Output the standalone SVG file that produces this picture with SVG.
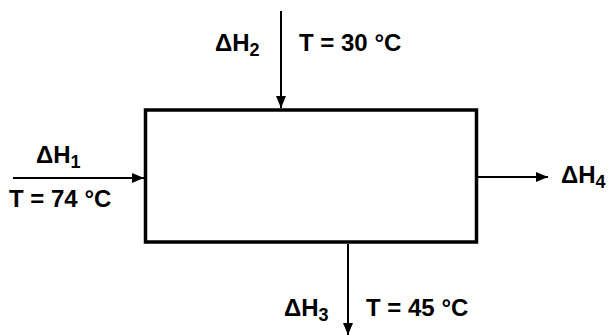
<svg xmlns="http://www.w3.org/2000/svg" width="612" height="335" viewBox="0 0 612 335">
<style>
.t{font-family:"Liberation Sans",Arial,sans-serif;font-size:24px;font-weight:bold;fill:#000}
.s{font-size:18px}
.ln{stroke:#000;stroke-width:2;fill:none}
</style>
<defs>
<marker id="ah" viewBox="0 0 12 10" refX="12" refY="5" markerWidth="12" markerHeight="10" markerUnits="userSpaceOnUse" orient="auto">
<path d="M0,0 L12,5 L0,10 z" fill="#000"/>
</marker>
</defs>
<rect width="612" height="335" fill="#fff"/>
<g id="box"><rect x="145.5" y="110" width="331" height="132" fill="none" stroke="#000" stroke-width="3.5"/></g>
<g id="connectors">
<line class="ln" x1="281" y1="11" x2="281" y2="108" marker-end="url(#ah)"/>
<line class="ln" x1="13" y1="178" x2="144" y2="178" marker-end="url(#ah)"/>
<line class="ln" x1="478" y1="177" x2="548" y2="177" marker-end="url(#ah)"/>
<line class="ln" x1="348" y1="244" x2="348" y2="335" marker-end="url(#ah)"/>
</g>
<g id="labels">
<text class="t" x="215" y="51">ΔH<tspan class="s" dy="5">2</tspan></text>
<text class="t" x="299" y="51">T = 30 °C</text>
<text class="t" x="36" y="163">ΔH<tspan class="s" dy="5">1</tspan></text>
<text class="t" x="9" y="207">T = 74 °C</text>
<text class="t" x="561" y="183">ΔH<tspan class="s" dy="5">4</tspan></text>
<text class="t" x="284" y="316">ΔH<tspan class="s" dy="5">3</tspan></text>
<text class="t" x="366" y="316">T = 45 °C</text>
</g>
</svg>
